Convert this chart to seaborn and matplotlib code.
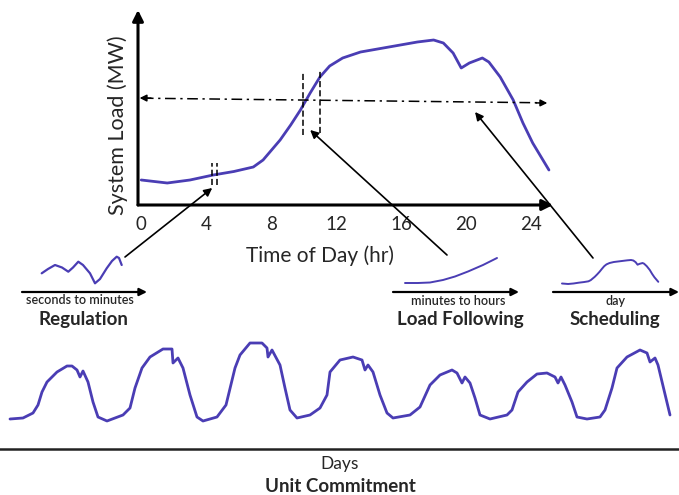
import numpy as np
import pandas as pd
import matplotlib
matplotlib.use("Agg")
import matplotlib.pyplot as plt
import seaborn as sns

# === data ===
# daily load curve (hour of day, load in arbitrary MW units)
day_hours = [0.0, 1.6, 3.0, 4.43, 5.7, 6.9, 7.5, 8.55, 9.2, 9.8, 10.4, 11.0, 11.6,
             12.4, 13.5, 14.9, 17.0, 18.0, 18.6, 19.2, 19.7, 20.2, 21.0, 21.4,
             22.1, 22.9, 23.5, 24.1, 25.1]
day_load = [25, 22, 25, 30, 33.5, 38, 45, 65, 80, 95, 112, 128, 139,
            147, 153, 157, 163, 165, 162, 152, 137, 142, 147, 143,
            128, 105, 82, 62, 35]
hour_ticks = [0, 4, 8, 12, 16, 20, 24]

# regulation wiggle (seconds to minutes)
reg_t = [19.7, 26, 33, 40, 46.3, 51, 56.3, 61, 68, 73, 78, 84.7, 90, 94.7, 97, 99.7]
reg_v = [18.7, 23, 27, 24.5, 20.3, 24.5, 30.3, 27, 18.7, 8.7, 13, 23.7, 31, 35.3, 34, 27]

# load following ramp (minutes to hours)
lf_t = [12, 25, 37, 50, 62, 75, 90, 104]
lf_v = [9, 9, 9.5, 12, 15.5, 20.5, 27, 34]

# one week of load (hours since start, load)
week_hours = [0, 3.25, 5.75, 7, 8, 9.25, 11.75, 14.25, 15.5, 16.75, 17.5, 18.25,
              19.5, 20.75, 22, 24.25, 28.25, 30, 31.25, 33, 35, 38.25, 40.5, 40.75,
              42, 43.25, 45, 46.75, 48.25, 51.75, 54, 56.25, 57.5, 60, 63, 64.25,
              64.5, 65.5, 67.5, 68.75, 70, 71.75, 75, 77.5, 79.25, 80, 82.5, 85.75,
              88, 88.75, 89.5, 90.75, 92.5, 94.25, 95.75, 100, 102.5, 105, 107.5,
              110.5, 111.75, 113, 113.75, 115, 116.25, 117.5, 120, 124.25, 125.5,
              127, 129.25, 131.75, 134.25, 136.25, 137, 137.75, 138.75, 140.5,
              141.75, 144.25, 147.5, 148.75, 150.5, 151.75, 154.25, 157.5, 159.25,
              160, 161.25, 162, 165]
week_load = [1, 2, 7, 15, 28, 38, 48, 54, 54, 50, 43, 49,
             38, 18, 3, -1, 5, 12, 32, 52, 63, 71, 71, 57,
             62, 52, 25, 3, -1, 3, 15, 52, 65, 77, 77, 72,
             63, 70, 55, 32, 10, 2, 5, 12, 25, 48, 60, 63,
             60, 50, 55, 48, 25, 7, 2, 5, 13, 35, 45,
             50, 47, 37, 43, 37, 22, 5, 1, 5, 10,
             28, 38, 46, 47, 43, 37, 43, 35, 18,
             3, 1, 3, 10, 32, 52, 63, 70, 67,
             58, 62, 55, 5]

curve_color = "#4a3db4"
W, H = 679, 495

sns.set_style("white")
plt.rcParams["font.family"] = ["Lato", "DejaVu Sans"]

fig = plt.figure(figsize=(W / 100, H / 100), dpi=100)


def px_axes(l, t, r, b):
    a = fig.add_axes([l / W, 1 - b / H, (r - l) / W, (b - t) / H])
    a.set_facecolor("none")
    for s in a.spines.values():
        s.set_visible(False)
    a.set_xticks([])
    a.set_yticks([])
    return a


def axis_arrow(a, start, end, lw=2.0, ms=14):
    a.annotate("", xy=end, xytext=start, xycoords="axes fraction",
               arrowprops=dict(arrowstyle="-|>", lw=lw, color="black",
                               mutation_scale=ms, shrinkA=0, shrinkB=0),
               annotation_clip=False)


def ftext(x, y, s, **kw):
    fig.text(x / W, 1 - y / H, s, ha="center", va="center", **kw)


# === main daily curve ===
ax = px_axes(138, 10, 553, 205)
ax.set_xlim(-0.2, 25.35)
ax.set_ylim(0, 195)
sns.lineplot(x=day_hours, y=day_load, ax=ax, color=curve_color, lw=2.0,
             sort=False, estimator=None)
axis_arrow(ax, (0, 0), (1, 0), lw=2.2, ms=16)
axis_arrow(ax, (0, 0), (0, 1), lw=2.2, ms=16)
ax.set_xticks(hour_ticks)
ax.set_xticklabels([str(h) for h in hour_ticks])
ax.tick_params(axis="x", length=0, pad=8, labelsize=13.5)
ftext(320, 256, "Time of Day (hr)", fontsize=15)
ftext(118, 125, "System Load (MW)", fontsize=15.5, rotation=90)

# dash-dot reference level with heads at both ends
ax.plot([0.1, 24.8], [106.8, 102.2], color="black", lw=1.1, ls=(0, (7, 3, 1.5, 3)))
for tip, base in [((-0.1, 107), (0.6, 106.9)), ((25.0, 102), (24.3, 102.1))]:
    ax.annotate("", xy=tip, xytext=base,
                arrowprops=dict(arrowstyle="-|>", lw=1.1, color="black",
                                mutation_scale=10, shrinkA=0, shrinkB=0))

# dashed time windows
for hx, y0, y1 in [(4.37, 20, 42), (4.65, 20, 42), (9.95, 70, 132), (11.0, 72, 135)]:
    ax.plot([hx, hx], [y0, y1], color="black", lw=1.1, ls=(0, (4, 2)))

# arrows from the insets up to the curve
for tip, tail in [((4.37, 17), (125, 257)), ((10.4, 75), (447, 255)),
                  ((20.55, 93), (593, 258))]:
    ax.annotate("", xy=tip, xycoords="data", xytext=(tail[0], H - tail[1]),
                textcoords="figure pixels",
                arrowprops=dict(arrowstyle="-|>", lw=1.2, color="black",
                                mutation_scale=12, shrinkA=0, shrinkB=0),
                annotation_clip=False)

# === inset: regulation ===
ax_r = px_axes(22, 250, 147, 292)
ax_r.set_xlim(0, 125)
ax_r.set_ylim(0, 42)
sns.lineplot(x=reg_t, y=reg_v, ax=ax_r, color=curve_color, lw=1.6,
             sort=False, estimator=None)
axis_arrow(ax_r, (0, 0), (1, 0), lw=1.6, ms=11)
ftext(80, 300, "seconds to minutes", fontsize=9, fontweight="semibold")
ftext(83, 320, "Regulation", fontsize=13.5, fontweight="bold")

# === inset: load following ===
ax_l = px_axes(393, 250, 519, 292)
ax_l.set_xlim(0, 126)
ax_l.set_ylim(0, 42)
sns.lineplot(x=lf_t, y=lf_v, ax=ax_l, color=curve_color, lw=1.4,
             sort=False, estimator=None)
axis_arrow(ax_l, (0, 0), (1, 0), lw=1.6, ms=11)
ftext(458, 301, "minutes to hours", fontsize=9, fontweight="semibold")
ftext(460, 320, "Load Following", fontsize=13.5, fontweight="bold")

# === inset: scheduling (the same daily curve, shrunk) ===
ax_s = px_axes(553, 250, 679, 292)
ax_s.set_xlim(-2.34, 30.5)
ax_s.set_ylim(-25.7, 224.6)
sns.lineplot(x=day_hours, y=day_load, ax=ax_s, color=curve_color, lw=1.4,
             sort=False, estimator=None)
axis_arrow(ax_s, (0, 0), (1, 0), lw=1.6, ms=11)
ftext(615, 301, "day", fontsize=9, fontweight="semibold")
ftext(615, 320, "Scheduling", fontsize=13.5, fontweight="bold")

# === weekly curve ===
ax_w = px_axes(0, 330, 679, 449)
ax_w.set_xlim(-2.5, 167.25)
ax_w.set_ylim(-29, 90)
sns.lineplot(x=week_hours, y=week_load, ax=ax_w, color=curve_color, lw=2.0,
             sort=False, estimator=None)
ax_w.spines["bottom"].set_visible(True)
ax_w.spines["bottom"].set_color("#222222")
ax_w.spines["bottom"].set_linewidth(1.8)
ftext(340, 464, "Days", fontsize=12.5)
ftext(340, 486, "Unit Commitment", fontsize=13.5, fontweight="bold")

fig.savefig("out.png", dpi=100)
